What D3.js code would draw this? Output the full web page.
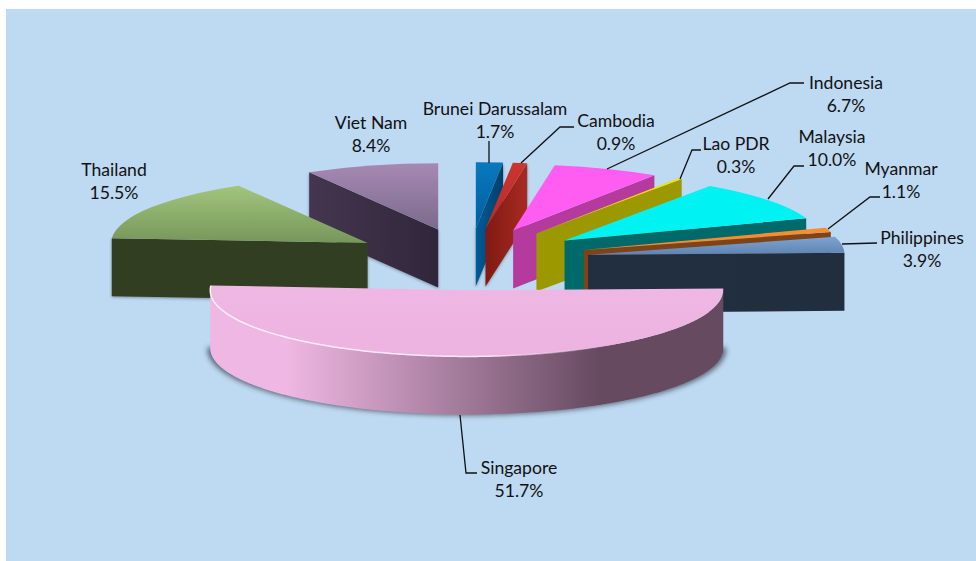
<!DOCTYPE html>
<html><head><meta charset="utf-8">
<style>html,body{margin:0;padding:0;background:#fff}svg{display:block}text{font-family:Lato,"Open Sans",sans-serif;font-size:17.6px;fill:#111}</style>
<script src="https://cdnjs.cloudflare.com/ajax/libs/d3/7.8.5/d3.min.js"></script>
</head><body><div id="c"></div>
<script>
const countries=["Brunei Darussalam","Cambodia","Indonesia","Lao PDR","Malaysia","Myanmar","Philippines","Singapore","Thailand","Viet Nam"];
const shares=[1.7,0.9,6.7,0.3,10.0,1.1,3.9,51.7,15.5,8.4];
const topLight=["#0a78bd","#cc3530","#ff5cf2","#eee600","#00f2f2","#f98c2f","#7da3cf","#efb7e3","#a2c57d","#a689b3"];
const topDark =["#005f9e","#b82a26","#ff5cf2","#d9d200","#00f2f2","#f98c2f","#5f84b2","#ecb3e0","#76975a","#7c6a8c"];
const wallA=["#005c98","#7f1a12","#b43a9e","#9c9800","#00696a","#7f4318","#222f40","#efb7e3","#323e22","#443650"];
const wallB=["#003f6b","#a82a22","#b43a9e","#9c9800","#00696a","#7f4318","#212e3e","#654a60","#323e22","#30263a"];
const labelLines=[
 [[489,163],[489,141]],
 [[521,163],[560,127],[574,127]],
 [[607,169],[790,83],[804,83]],
 [[680,179],[692,150],[701,150]],
 [[768,199],[794,166],[804,166]],
 [[828,229],[870,197],[880,197]],
 [[842,244],[877,243]],
 [[460,415],[466,473],[477,473]]
];
const labelPos=[[495,115],[616,127],[846,89],[736,150],[832,143],[901,174.5],[922,244],[519,474],[114,176],[371,129]];

const W=976,H=561,panel={x:6,y:9,w:970,h:552};
const cx=469.4,cy=259.3,R=256.5,k=0.258,depth=58,explode=120;
const svg=d3.select("#c").append("svg").attr("width",W).attr("height",H);
const defs=svg.append("defs");
svg.append("rect").attr("x",panel.x).attr("y",panel.y).attr("width",panel.w).attr("height",panel.h).attr("fill","#bed9f2");
const blur=defs.append("filter").attr("id","soft").attr("x","-10%").attr("y","-20%").attr("width","120%").attr("height","140%");
blur.append("feGaussianBlur").attr("stdDeviation",2.5);
const blur2=defs.append("filter").attr("id","soft2").attr("x","-20%").attr("y","-20%").attr("width","140%").attr("height","140%");
blur2.append("feGaussianBlur").attr("stdDeviation",1.5);
const rimG=defs.append("linearGradient").attr("id","rimGrad").attr("gradientUnits","userSpaceOnUse").attr("x1",210).attr("x2",720).attr("y1",0).attr("y2",0);
rimG.append("stop").attr("offset","0").attr("stop-color","#fff0fb");
rimG.append("stop").attr("offset","0.55").attr("stop-color","#fde4f8");
rimG.append("stop").attr("offset","0.8").attr("stop-color","#efb7e3").attr("stop-opacity",0);

const arcs=d3.pie().sort(null).value(d=>d)(shares);
const arcGen=d3.arc().innerRadius(0).outerRadius(R);
const lineGen=d3.line();
const order=[9,8,0,1,2,3,4,5,6,7];
const shadowed=[9,8,0,1];
const rim=(a,x,y)=>[x+R*Math.sin(a),y-R*k*Math.cos(a)];

order.forEach(i=>{
  const s=arcs[i],mid=(s.startAngle+s.endAngle)/2;
  const ax=cx+explode*Math.sin(mid),ay=cy-explode*k*Math.cos(mid);
  const g=svg.append("g").attr("class","slice");
  const tid="top"+i,wid="wall"+i;
  const tg=defs.append("linearGradient").attr("id",tid).attr("x1",0).attr("x2",0).attr("y1",0).attr("y2",1);
  tg.append("stop").attr("offset","0").attr("stop-color",topLight[i]);
  tg.append("stop").attr("offset","1").attr("stop-color",topDark[i]);
  const wg=defs.append("linearGradient").attr("id",wid).attr("x1",0).attr("x2",1).attr("y1",0).attr("y2",0);
  wg.append("stop").attr("offset",i===7?"0.15":"0").attr("stop-color",wallA[i]);
  wg.append("stop").attr("offset",i===7?"0.76":"1").attr("stop-color",wallB[i]);
  const wall=pts=>lineGen(pts.concat(pts.slice().reverse().map(p=>[p[0],p[1]+depth])))+"Z";
  const faces=[];
  if(Math.sin(s.endAngle)>0) faces.push(wall([[ax,ay],rim(s.endAngle,ax,ay)]));
  if(Math.sin(s.startAngle)<0) faces.push(wall([rim(s.startAngle,ax,ay),[ax,ay]]));
  const a0=Math.max(s.startAngle,Math.PI/2),a1=Math.min(s.endAngle,Math.PI*1.5);
  if(a1>a0) faces.push(wall(d3.range(a0,a1,0.01).concat([a1]).map(a=>rim(a,ax,ay))));
  if(shadowed.includes(i)) faces.forEach(d=>g.append("path").attr("d",d).attr("fill","#2c3440").attr("opacity",.45).attr("filter","url(#soft2)").attr("transform","translate(0,1)"));
  if(i===7){
    const sh=d3.range(s.startAngle,s.endAngle,0.02).map(a=>rim(a,ax,ay)).filter(p=>p[1]>ay-2).map(p=>[p[0],p[1]+depth+1]);
    g.append("path").attr("d",lineGen(sh.map(p=>[p[0]+(p[0]>ax?3:-3),p[1]]))+"Z").attr("fill","#3f4a55").attr("opacity",.75).attr("filter","url(#soft)");
  }
  faces.forEach(d=>g.append("path").attr("d",d).attr("fill","url(#"+wid+")"));
  g.append("path").attr("d",arcGen.startAngle(s.startAngle).endAngle(s.endAngle)())
   .attr("transform",`translate(${ax},${ay}) scale(1,${k})`).attr("fill","url(#"+tid+")");
  if(i===7){
    const pts=d3.range(s.startAngle,s.endAngle,0.01).reverse().map(a=>rim(a,ax,ay));
    g.append("path").attr("d",lineGen(pts)).attr("fill","none").attr("stroke","url(#rimGrad)").attr("stroke-width",1.5);
  }
});

svg.append("g").selectAll("path").data(labelLines).join("path")
  .attr("d",d=>lineGen(d)).attr("fill","none").attr("stroke","#111").attr("stroke-width",1.3);
const lab=svg.append("g").selectAll("text").data(countries).join("text")
  .attr("text-anchor","middle").attr("x",(d,i)=>labelPos[i][0]).attr("y",(d,i)=>labelPos[i][1]);
lab.append("tspan").text(d=>d);
lab.append("tspan").attr("x",(d,i)=>labelPos[i][0]).attr("dy",23).text((d,i)=>shares[i].toFixed(1)+"%");
</script></body></html>
